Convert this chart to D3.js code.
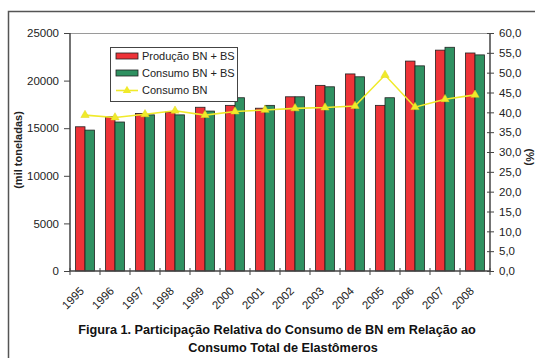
<!DOCTYPE html>
<html>
<head>
<meta charset="utf-8">
<script src="https://cdn.jsdelivr.net/npm/d3@7"></script>
<style>
  html, body { margin: 0; padding: 0; background: #fff; }
  svg { display: block; font-family: "Liberation Sans", Arial, sans-serif; }
</style>
</head>
<body>
<svg id="chart" width="535" height="358"></svg>
<script>
// Anos e séries (mil toneladas / %)
const years = ["1995","1996","1997","1998","1999","2000","2001","2002","2003","2004","2005","2006","2007","2008"];
const producaoBNBS = [15150, 16200, 16550, 16700, 17200, 17400, 17100, 18300, 19500, 20700, 17400, 22050, 23200, 22900];
const consumoBNBS  = [14800, 15650, 16400, 16400, 16800, 18200, 17400, 18300, 19350, 20400, 18200, 21550, 23500, 22700];
const consumoBN    = [39.3, 38.7, 39.5, 40.4, 39.3, 40.2, 40.6, 41.0, 41.2, 41.6, 49.4, 41.3, 43.3, 44.4];
const leftTicks  = [0, 5000, 10000, 15000, 20000, 25000];
const rightTicks = [0, 5, 10, 15, 20, 25, 30, 35, 40, 45, 50, 55, 60];
const seriesNames = ["Produção BN + BS", "Consumo BN + BS", "Consumo BN"];
const titleLines = ["Figura 1. Participação Relativa do Consumo de BN em Relação ao", "Consumo Total de Elastômeros"];

const RED = "#ee3338", GREEN = "#2f9161", YELLOW = "#f0ea2a";

const svg = d3.select("#chart");
const plot = { left: 70, right: 490, top: 33, bottom: 271 };

// Moldura externa da figura
svg.append("path")
  .attr("d", `M8.5,358 V11.5 H535`)
  .attr("fill", "none").attr("stroke", "#555").attr("stroke-width", 1.5);

const x = d3.scaleBand().domain(years).range([plot.left, plot.right]).padding(0);
const yL = d3.scaleLinear().domain([0, 25000]).range([plot.bottom, plot.top]);
const yR = d3.scaleLinear().domain([0, 60]).range([plot.bottom, plot.top]);

// Borda superior da área de plotagem
svg.append("line")
  .attr("x1", plot.left).attr("x2", plot.right)
  .attr("y1", plot.top + 0.5).attr("y2", plot.top + 0.5)
  .attr("stroke", "#9a9a9a").attr("stroke-width", 1.2);

// Barras agrupadas
const barW = 9.5;
const g = svg.append("g");
years.forEach((yr, i) => {
  const cx = x(yr) + x.bandwidth() / 2;
  g.append("rect")
    .attr("x", cx - barW).attr("y", yL(producaoBNBS[i]))
    .attr("width", barW).attr("height", yL(0) - yL(producaoBNBS[i]))
    .attr("fill", RED).attr("stroke", "#222").attr("stroke-width", 0.8);
  g.append("rect")
    .attr("x", cx).attr("y", yL(consumoBNBS[i]))
    .attr("width", barW).attr("height", yL(0) - yL(consumoBNBS[i]))
    .attr("fill", GREEN).attr("stroke", "#222").attr("stroke-width", 0.8);
});

// Eixo esquerdo
const axL = svg.append("g").attr("transform", `translate(${plot.left},0)`)
  .call(d3.axisLeft(yL).tickValues(leftTicks).tickSize(6).tickPadding(5).tickFormat(d3.format("d")));
// Eixo direito
const fmtR = d => d.toFixed(1).replace(".", ",");
const axR = svg.append("g").attr("transform", `translate(${plot.right},0)`)
  .call(d3.axisRight(yR).tickValues(rightTicks).tickSize(4).tickPadding(5).tickFormat(fmtR));
axR.selectAll(".tick line").attr("x1", -3);
// Eixo X (marcas entre categorias)
const axX = svg.append("g").attr("transform", `translate(0,${plot.bottom})`)
  .call(d3.axisBottom(x).tickSize(0).tickPadding(0));
axX.selectAll(".tick text").remove();
axX.append("g").selectAll("line").data(years.concat(["_end"]))
  .join("line")
  .attr("x1", (d, i) => plot.left + i * x.bandwidth())
  .attr("x2", (d, i) => plot.left + i * x.bandwidth())
  .attr("y1", -3).attr("y2", 4)
  .attr("stroke", "#444");
axX.selectAll(".tick").each(function(d) {
  d3.select(this).append("text")
    .attr("transform", "translate(-6,15) rotate(-45)")
    .attr("text-anchor", "end")
    .attr("dy", "0.71em")
    .attr("fill", "#222")
    .attr("font-size", 11.5)
    .text(d);
});

[axL, axR, axX].forEach(a => {
  a.select(".domain").attr("stroke", "#444").attr("stroke-width", 1.5);
  a.selectAll(".tick line").attr("stroke", "#444");
  a.selectAll("text").attr("fill", "#222").style("font-family", "Liberation Sans, Arial, sans-serif");
});
axL.selectAll(".tick text").attr("font-size", 11.5);
axR.selectAll(".tick text").attr("font-size", 11.5);
axL.select(".domain").attr("d", `M0,${plot.bottom}V${plot.top}`);
axR.select(".domain").attr("d", `M0,${plot.bottom}V${plot.top}`);
axX.select(".domain").attr("d", `M${plot.left},0H${plot.right}`);

// Linha Consumo BN (eixo secundário)
const line = d3.line()
  .x((d, i) => x(years[i]) + x.bandwidth() / 2)
  .y(d => yR(d));
svg.append("path").datum(consumoBN)
  .attr("d", line).attr("fill", "none")
  .attr("stroke", YELLOW).attr("stroke-width", 1.6);
const tri = d3.symbol().type(d3.symbolTriangle).size(30);
svg.append("g").selectAll("path").data(consumoBN).join("path")
  .attr("transform", (d, i) => `translate(${x(years[i]) + x.bandwidth() / 2},${yR(d)})`)
  .attr("d", tri).attr("fill", YELLOW).attr("stroke", "#e0d820").attr("stroke-width", 0.5);

// Títulos dos eixos
svg.append("text")
  .attr("transform", "translate(22,150) rotate(-90)")
  .attr("text-anchor", "middle").attr("font-weight", "bold").attr("font-size", 11)
  .attr("fill", "#222").text("(mil toneladas)");
svg.append("text")
  .attr("transform", "translate(526,157) rotate(90)")
  .attr("text-anchor", "middle").attr("font-weight", "bold").attr("font-size", 11)
  .attr("fill", "#222").text("(%)");

// Legenda
const leg = svg.append("g");
leg.append("rect").attr("x", 110.5).attr("y", 47.5).attr("width", 127).attr("height", 54)
  .attr("fill", "#fff").attr("stroke", "#444").attr("stroke-width", 1);
const rowsY = [56, 73, 90.5];
leg.append("rect").attr("x", 116).attr("y", rowsY[0] - 3).attr("width", 22).attr("height", 6)
  .attr("fill", RED).attr("stroke", "#222").attr("stroke-width", 0.8);
leg.append("rect").attr("x", 116).attr("y", rowsY[1] - 3).attr("width", 22).attr("height", 6)
  .attr("fill", GREEN).attr("stroke", "#222").attr("stroke-width", 0.8);
leg.append("line").attr("x1", 116).attr("x2", 138).attr("y1", rowsY[2]).attr("y2", rowsY[2])
  .attr("stroke", YELLOW).attr("stroke-width", 1.6);
leg.append("path").attr("transform", `translate(127,${rowsY[2]})`).attr("d", tri).attr("fill", YELLOW);
seriesNames.forEach((name, i) => {
  leg.append("text").attr("x", 142).attr("y", rowsY[i]).attr("dy", "0.35em")
    .attr("font-size", 11).attr("fill", "#222").text(name);
});

// Legenda da figura
svg.append("text").attr("x", 277).attr("y", 334).attr("text-anchor", "middle")
  .attr("font-weight", "bold").attr("font-size", 12.7).attr("fill", "#111").text(titleLines[0]);
svg.append("text").attr("x", 283).attr("y", 352).attr("text-anchor", "middle")
  .attr("font-weight", "bold").attr("font-size", 12.7).attr("fill", "#111").text(titleLines[1]);
</script>
</body>
</html>
